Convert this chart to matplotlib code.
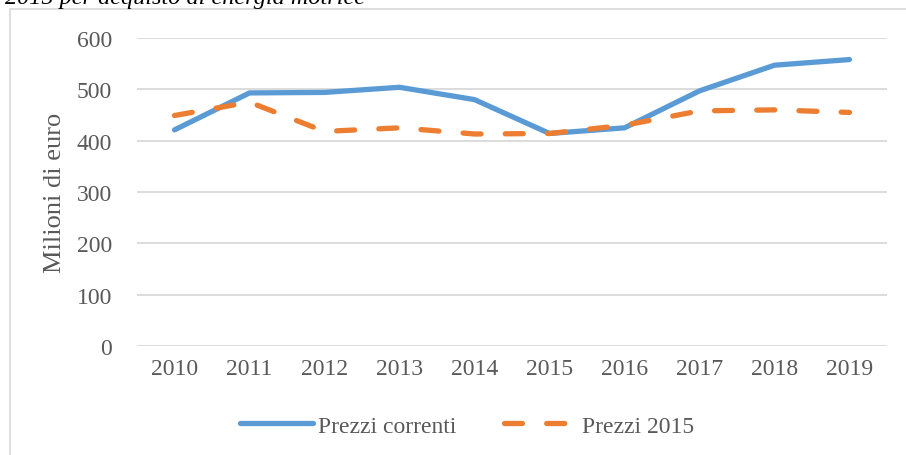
import matplotlib.pyplot as plt
from matplotlib.patches import Rectangle

# dati (milioni di euro)
anni = ['2010', '2011', '2012', '2013', '2014', '2015', '2016', '2017', '2018', '2019']
prezzi_correnti = [421, 493, 494, 504, 480, 414, 425, 497, 547, 558]
prezzi_2015 = [449, 475, 418, 425, 413, 414, 430, 458, 460, 455]

plt.rcParams['font.family'] = ['Liberation Serif', 'DejaVu Serif']
grigio = '#595959'

fig = plt.figure(figsize=(9.06, 4.56), dpi=100)

# cornice del grafico (tagliata a destra e in basso)
fig.patches.append(Rectangle((10 / 906, -0.1), 1.2, 1 - 10 / 456 + 0.1,
                             transform=fig.transFigure, fill=False,
                             edgecolor='#d9d9d9', linewidth=1.2))

# titolo tagliato in alto
fig.text(5 / 906, 1 - 4 / 456, '2015 per acquisto di energia motrice',
         fontsize=17.5, style='italic', va='baseline', ha='left')

ax = fig.add_axes([137 / 906, 1 - 347 / 456, 750 / 906, 308 / 456])
x = range(len(anni))
ax.plot(x, prezzi_correnti, color='#5b9bd5', linewidth=3.8,
        solid_capstyle='round', solid_joinstyle='round', label='Prezzi correnti')
ax.plot(x, prezzi_2015, color='#ed7d31', linewidth=3.8, dashes=(3.4, 4.6),
        dash_capstyle='round', label='Prezzi 2015')

ax.set_xlim(-0.5, len(anni) - 0.5)
ax.set_ylim(0, 600)
ax.set_yticks(range(0, 601, 100))
ax.set_xticks(list(x))
ax.set_xticklabels(anni)
ax.grid(axis='y', color='#d9d9d9', linewidth=1.3)
ax.set_axisbelow(True)
for s in ax.spines.values():
    s.set_visible(False)
ax.tick_params(axis='y', length=0, pad=18, labelsize=17, labelcolor=grigio)
ax.tick_params(axis='x', length=0, pad=9, labelsize=17, labelcolor=grigio)
ax.set_ylabel('Milioni di euro', fontsize=19, color=grigio, labelpad=8)

fig.legend(loc='center', bbox_to_anchor=(467 / 906, 1 - 427 / 456), ncol=2,
           frameon=False, fontsize=17, labelcolor=grigio, handlelength=3.1,
           handletextpad=0.2, columnspacing=2.0)

fig.savefig('out.png', dpi=100)
